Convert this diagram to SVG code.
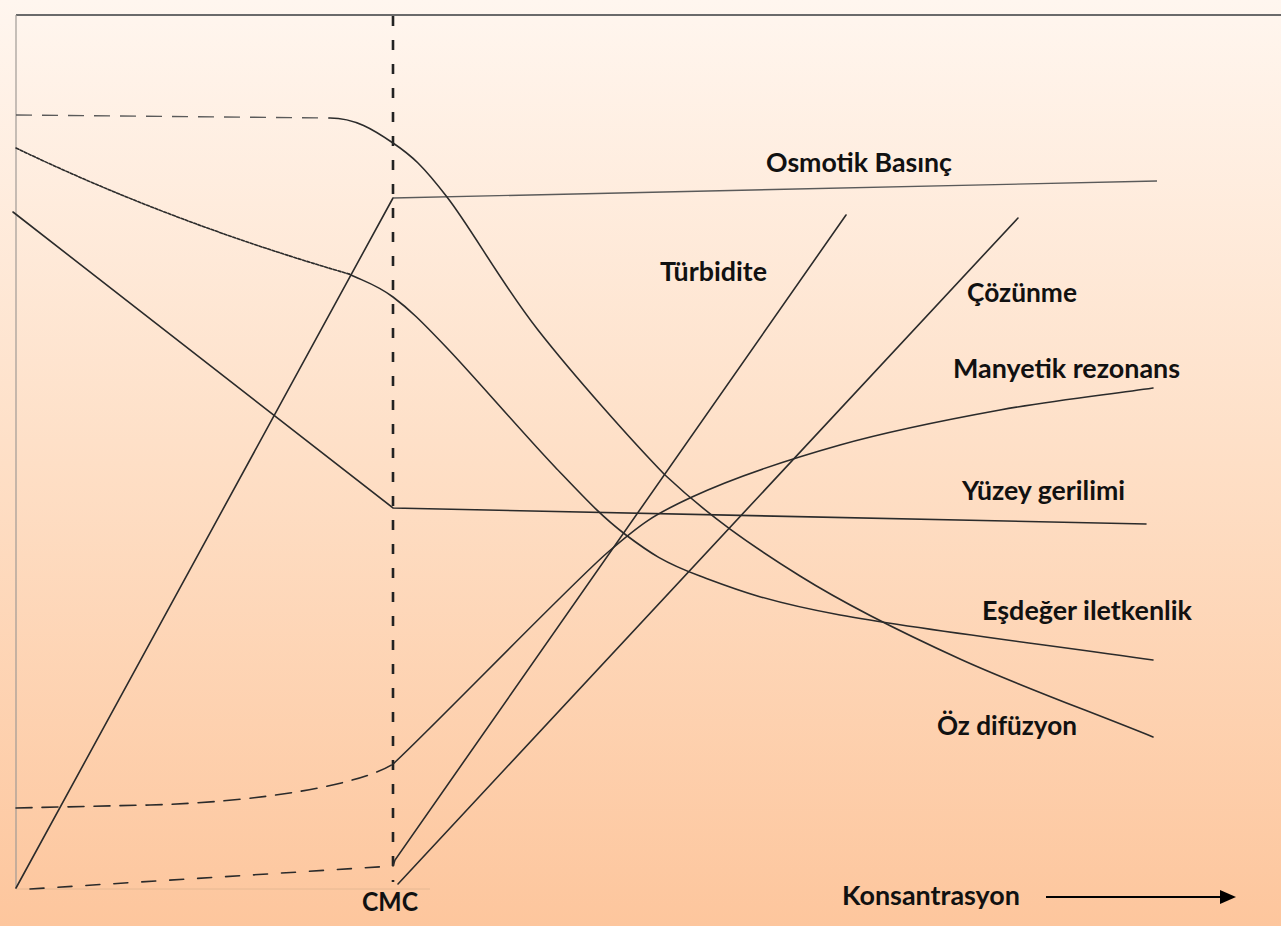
<svg xmlns="http://www.w3.org/2000/svg" width="1281" height="926" viewBox="0 0 1281 926">
  <defs>
    <linearGradient id="bg" x1="0" y1="0" x2="0" y2="1">
      <stop offset="0" stop-color="#FFF6EF"/>
      <stop offset="0.5" stop-color="#FEDFC6"/>
      <stop offset="1" stop-color="#FDC69D"/>
    </linearGradient>
    <marker id="arrowhead" markerWidth="16" markerHeight="14" refX="2" refY="7" orient="auto" markerUnits="userSpaceOnUse">
      <polygon points="0,0 16,7 0,14" fill="#000"/>
    </marker>
    <style>
      .ln { fill: none; stroke: #2b2b2b; stroke-width: 1.6; stroke-linecap: round; }
      .thin { fill: none; stroke: #5a5a5a; stroke-width: 1.4; }
      .dash { stroke-dasharray: 16 10; }
      .dot { stroke-dasharray: 3 1.6; }
      .lbl { font-family: Lato, "Open Sans", "Liberation Sans", sans-serif; font-weight: 700; font-size: 26px; fill: #111; }
    </style>
  </defs>

  <rect x="0" y="0" width="1281" height="926" fill="url(#bg)"/>

  <g id="axes">
    <line x1="16" y1="15" x2="1281" y2="15" stroke="#6a6a6a" stroke-width="2"/>
    <line x1="16" y1="15" x2="16" y2="889" stroke="#a09a95" stroke-width="1.2"/>
    <line x1="16" y1="889" x2="430" y2="889" stroke="#e6b892" stroke-width="1"/>
    <line id="cmc-line" x1="393" y1="16" x2="393" y2="882" stroke="#222" stroke-width="2.6" stroke-dasharray="10 14"/>
  </g>

  <g id="connectors">
    <g id="osmotik">
      <path class="ln" d="M16,888 L393,198"/>
      <path class="thin" d="M393,198 L1157,181"/>
    </g>
    <g id="yuzey">
      <path class="ln" d="M13,212 L393,508 L1146,524"/>
    </g>
    <g id="ozdifuzyon">
      <path class="thin dash" d="M16,115 L330,118"/>
      <path class="ln" d="M330,118 C355,118 373.5,129.8 393,143 C412.5,156.2 422.8,165.8 447,197 C471.2,228.2 501.7,283.7 538,330 C574.3,376.3 633,442 665,475 C708.7,516 750.8,545.3 800,576 C849.2,606.7 901.2,632.2 960,659 C1018.8,685.8 1089,711 1153,737"/>
    </g>
    <g id="esdeger">
      <path class="ln dot" d="M16,148 Q170,222 349,274"/>
      <path class="ln" d="M349,274 C364.5,281.5 376.7,284.7 393,297 C409.3,309.3 420,319.7 447,348 C474,376.3 525.2,435.8 555,467 C584.8,498.2 601.8,516.8 626,535 C650.2,553.2 664.3,562.7 700,576 C735.7,589.3 764.5,601 840,615 C915.5,629 1048.7,645 1153,660"/>
    </g>
    <g id="manyetik">
      <path class="ln dash" d="M16,808 L150,805 C260,802 360,785 393,764"/>
      <path class="ln" d="M393,764 C430,730 571.7,583.5 607,553 C642.3,522.5 653.2,515 692,497 C730.8,479 788.7,459.5 840,445 C891.3,430.5 947.8,419.5 1000,410 C1052.2,400.5 1102,395.3 1153,388"/>
    </g>
    <g id="turbidite">
      <path class="ln" d="M30,889 L393,866" stroke-dasharray="14 14"/>
      <path class="ln" d="M393,866 L395,860 L846,215"/>
    </g>
    <g id="cozunme">
      <path class="ln" d="M398,884 L1018,218"/>
    </g>
    <g id="arrow">
      <line x1="1046" y1="897" x2="1222" y2="897" stroke="#000" stroke-width="2" marker-end="url(#arrowhead)"/>
    </g>
  </g>

  <g id="labels">
    <text id="t-osmotik" class="lbl" x="766" y="172" textLength="186" lengthAdjust="spacingAndGlyphs">Osmotik Basınç</text>
    <text id="t-turbidite" class="lbl" x="660" y="281" textLength="107" lengthAdjust="spacingAndGlyphs">Türbidite</text>
    <text id="t-cozunme" class="lbl" x="967" y="302" textLength="110" lengthAdjust="spacingAndGlyphs">Çözünme</text>
    <text id="t-manyetik" class="lbl" x="953" y="378" textLength="227" lengthAdjust="spacingAndGlyphs">Manyetik rezonans</text>
    <text id="t-yuzey" class="lbl" x="962" y="500" textLength="163" lengthAdjust="spacingAndGlyphs">Yüzey gerilimi</text>
    <text id="t-esdeger" class="lbl" x="982" y="620" textLength="210" lengthAdjust="spacingAndGlyphs">Eşdeğer iletkenlik</text>
    <text id="t-oz" class="lbl" x="937" y="735" textLength="140" lengthAdjust="spacingAndGlyphs">Öz difüzyon</text>
    <text id="t-cmc" class="lbl" x="362" y="911" textLength="56" lengthAdjust="spacingAndGlyphs">CMC</text>
    <text id="t-konsantrasyon" class="lbl" x="842" y="905" textLength="178" lengthAdjust="spacingAndGlyphs">Konsantrasyon</text>
  </g>
</svg>
